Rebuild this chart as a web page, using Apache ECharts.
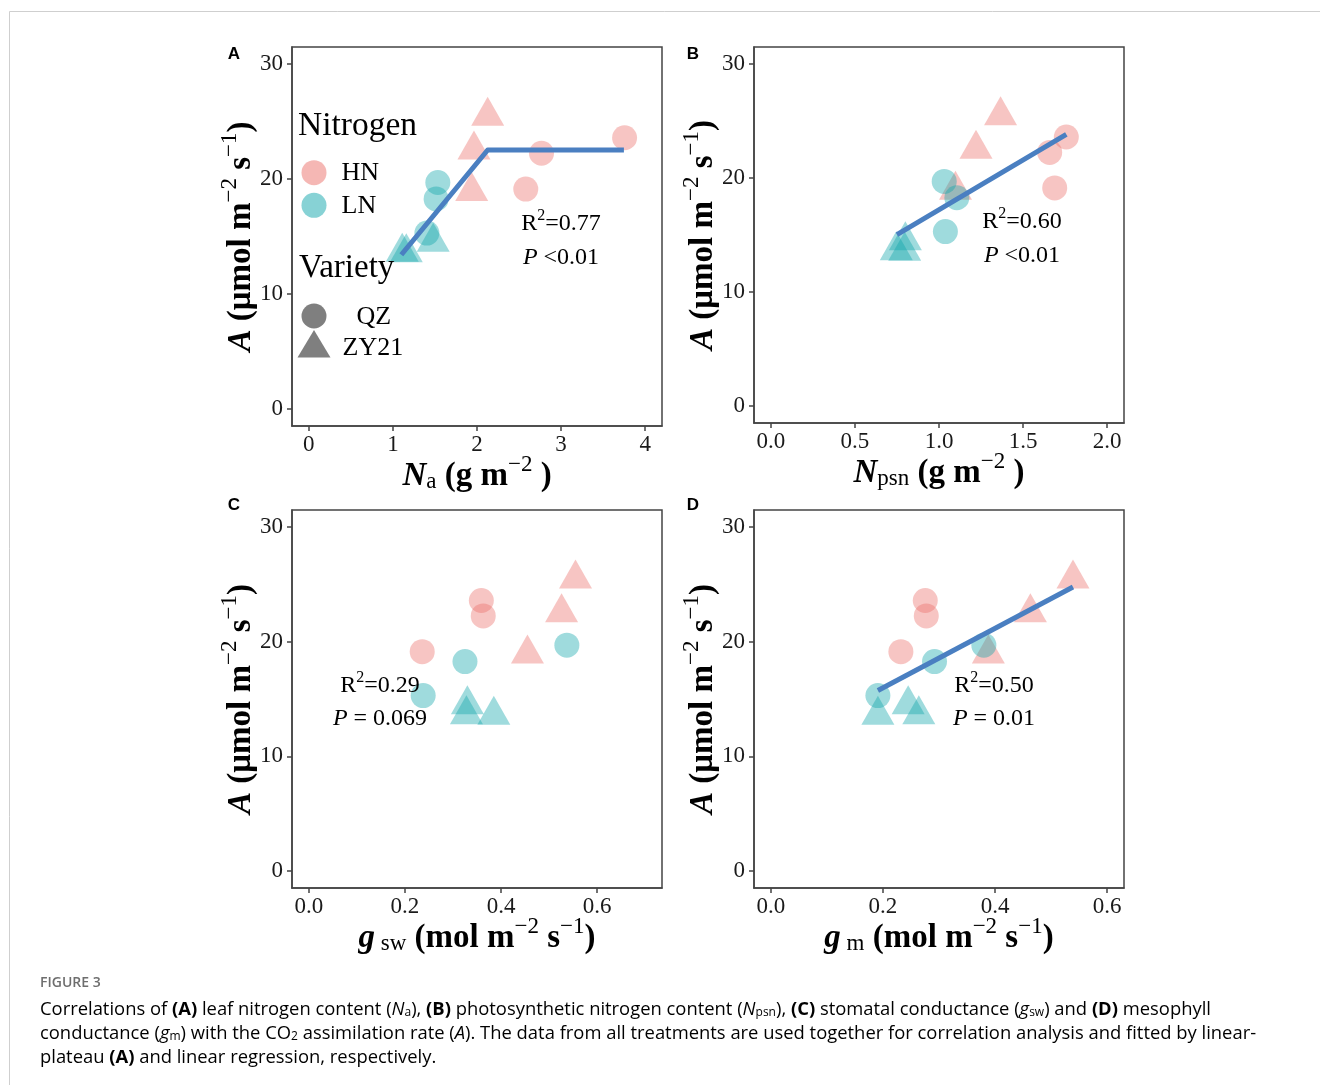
<!DOCTYPE html>
<html><head><meta charset="utf-8">
<script src="https://cdn.jsdelivr.net/npm/echarts@6/dist/echarts.min.js"></script>
<style>html,body{margin:0;padding:0;background:#fff}#c{width:1320px;height:1085px}</style>
</head><body><div id="c"></div>
<script>
// ---------- DATA ----------
// Y: CO2 assimilation rate A (µmol m-2 s-1), by group (Nitrogen x Variety)
const A_HN_QZ   = [23.6, 22.25, 19.13];
const A_HN_ZY21 = [25.47, 22.53, 18.92];
const A_LN_QZ   = [19.7, 18.27, 15.3];
const A_LN_ZY21 = [14.5, 13.62, 13.58];

// Panel A: Na (g m-2)
const Na_HN_QZ   = [3.755, 2.767, 2.58];
const Na_HN_ZY21 = [2.127, 1.964, 1.937];
const Na_LN_QZ   = [1.534, 1.514, 1.404];
const Na_LN_ZY21 = [1.479, 1.111, 1.159];
// Panel B: Npsn (g m-2)
const Npsn_HN_QZ   = [1.757, 1.658, 1.688];
const Npsn_HN_ZY21 = [1.366, 1.220, 1.098];
const Npsn_LN_QZ   = [1.031, 1.106, 1.038];
const Npsn_LN_ZY21 = [0.80, 0.746, 0.796];
// Panel C: gsw (mol m-2 s-1)
const gsw_HN_QZ   = [0.359, 0.363, 0.236];
const gsw_HN_ZY21 = [0.555, 0.526, 0.455];
const gsw_LN_QZ   = [0.537, 0.325, 0.238];
const gsw_LN_ZY21 = [0.330, 0.328, 0.385];
// Panel D: gm (mol m-2 s-1)
const gm_HN_QZ   = [0.2755, 0.2773, 0.232];
const gm_HN_ZY21 = [0.539, 0.463, 0.388];
const gm_LN_QZ   = [0.380, 0.292, 0.191];
const gm_LN_ZY21 = [0.245, 0.264, 0.191];

// Fitted lines
const fitA_x = [1.10, 2.127, 3.747];
const fitA_y = [13.41, 22.53, 22.53];
const fitB_x = [0.75, 1.757];
const fitB_y = [15.04, 23.84];
const fitD_x = [0.191, 0.539];
const fitD_y = [15.74, 24.78];

// Ticks
const xTicksA = [0, 1, 2, 3, 4];
const xTicksB = [0, 0.5, 1.0, 1.5, 2.0];
const xTicksC = [0, 0.2, 0.4, 0.6];
const xTicksD = [0, 0.2, 0.4, 0.6];
const yTicks  = [0, 10, 20, 30];

// Annotations
const statsA = ['0.77', '<0.01'];
const statsB = ['0.60', '<0.01'];
const statsC = ['0.29', '= 0.069'];
const statsD = ['0.50', '= 0.01'];

// ---------- STYLE ----------
const SERIF = "'Liberation Serif','Times New Roman',serif";
const SANS = "'Open Sans','Liberation Sans',sans-serif";
const PINK = 'rgba(235,111,105,0.5)';
const TEAL = 'rgba(15,165,171,0.5)';
const GRAY = 'rgba(0,0,0,0.5)';
const LINEC = '#4A7FC1';
const FRAME = '#444';

const chart = echarts.init(document.getElementById('c'), null, {renderer: 'canvas'});
const zip = (xs, ys) => xs.map((x, i) => [x, ys[i]]);

const grids = [
  {left: 292, top: 47, width: 370, height: 379},
  {left: 754, top: 47, width: 370, height: 376},
  {left: 292, top: 510, width: 370, height: 378},
  {left: 754, top: 510, width: 370, height: 378}
].map(g => Object.assign(g, {show: true, borderColor: FRAME, borderWidth: 1.5, backgroundColor: 'transparent', outerBoundsMode: 'none', containLabel: false}));

const axisRich = {
  bi: {fontFamily: SERIF, fontSize: 33, fontWeight: 'bold', fontStyle: 'italic', lineHeight: 40, verticalAlign: 'bottom', color: '#000'},
  b: {fontFamily: SERIF, fontSize: 33, fontWeight: 'bold', lineHeight: 40, verticalAlign: 'bottom', color: '#000'},
  sub: {fontFamily: SERIF, fontSize: 23, lineHeight: 23, verticalAlign: 'bottom', color: '#000'},
  sup: {fontFamily: SERIF, fontSize: 23, lineHeight: 23, verticalAlign: 'top', color: '#000'}
};

const xNames = [
  '{bi|N}{sub|a}{b| (g m}{sup|−2}{b| )}',
  '{bi|N}{sub|psn}{b| (g m}{sup|−2}{b| )}',
  '{bi|g}{sub| sw}{b| (mol m}{sup|−2}{b| s}{sup|−1}{b|)}',
  '{bi|g}{sub| m}{b| (mol m}{sup|−2}{b| s}{sup|−1}{b|)}'
];
const yName = '{bi|A}{b| (μmol m}{sup|−2}{b| s}{sup|−1}{b|)}';

const xRanges = [[-0.2, 4.2], [-0.1, 2.1], [-0.035, 0.735], [-0.03, 0.63]];
const xTickSets = [xTicksA, xTicksB, xTicksC, xTicksD];
const xFmt = [v => String(v), v => v.toFixed(1), v => v.toFixed(1), v => v.toFixed(1)];

const tickStyle = {color: '#444', width: 1.5};
const xAxes = [], yAxes = [];
for (let i = 0; i < 4; i++) {
  xAxes.push({
    type: 'value', gridIndex: i, position: 'bottom', min: xRanges[i][0], max: xRanges[i][1],
    name: xNames[i], nameLocation: 'middle', nameGap: 27, nameMoveOverlap: false,
    nameTextStyle: {rich: axisRich},
    axisLine: {show: true, onZero: false, lineStyle: {color: FRAME, width: 1.5}}, splitLine: {show: false},
    axisTick: {show: true, inside: false, length: 5, lineStyle: tickStyle, customValues: xTickSets[i]},
    axisLabel: {show: true, margin: 7, fontFamily: SERIF, fontSize: 23, color: '#1a1a1a', customValues: xTickSets[i], formatter: xFmt[i]}
  });
  yAxes.push({
    type: 'value', gridIndex: i, position: 'left', min: -1.5, max: 31.5,
    name: yName, nameLocation: 'middle', nameRotate: 90, nameGap: 34, nameMoveOverlap: false,
    nameTextStyle: {rich: axisRich},
    axisLine: {show: true, onZero: false, lineStyle: {color: FRAME, width: 1.5}}, splitLine: {show: false},
    axisTick: {show: true, inside: false, length: 5, lineStyle: tickStyle, customValues: yTicks},
    axisLabel: {show: true, margin: 9, fontFamily: SERIF, fontSize: 23, color: '#1a1a1a', customValues: yTicks, formatter: v => String(v)}
  });
}

const panelX = [
  [Na_HN_QZ, Na_HN_ZY21, Na_LN_QZ, Na_LN_ZY21],
  [Npsn_HN_QZ, Npsn_HN_ZY21, Npsn_LN_QZ, Npsn_LN_ZY21],
  [gsw_HN_QZ, gsw_HN_ZY21, gsw_LN_QZ, gsw_LN_ZY21],
  [gm_HN_QZ, gm_HN_ZY21, gm_LN_QZ, gm_LN_ZY21]
];
const groupY = [A_HN_QZ, A_HN_ZY21, A_LN_QZ, A_LN_ZY21];
const groupName = ['HN-QZ', 'HN-ZY21', 'LN-QZ', 'LN-ZY21'];
const groupColor = [PINK, PINK, TEAL, TEAL];
const groupTri = [false, true, false, true];

const series = [];
for (let p = 0; p < 4; p++) {
  for (let g = 0; g < 4; g++) {
    series.push({
      type: 'scatter', name: groupName[g], xAxisIndex: p, yAxisIndex: p,
      data: zip(panelX[p][g], groupY[g]),
      symbol: groupTri[g] ? 'triangle' : 'circle',
      symbolSize: groupTri[g] ? [33, 29] : 25,
      symbolOffset: groupTri[g] ? [0, -5] : [0, 0],
      itemStyle: {color: groupColor[g], borderWidth: 0},
      emphasis: {disabled: true}, z: 2
    });
  }
}
const fits = [[0, fitA_x, fitA_y], [1, fitB_x, fitB_y], [3, fitD_x, fitD_y]];
fits.forEach(([p, xs, ys]) => series.push({
  type: 'line', xAxisIndex: p, yAxisIndex: p, data: zip(xs, ys),
  showSymbol: false, symbol: 'none', lineStyle: {color: LINEC, width: 5, cap: 'butt', join: 'round'},
  emphasis: {disabled: true}, z: 3
}));

// ---------- GRAPHIC (legend, annotations, labels, caption) ----------
const g = [];
// outer frame
g.push({type: 'polyline', shape: {points: [[9.5, 1085], [9.5, 11.5], [1320, 11.5]]}, style: {stroke: '#cfcfcf', lineWidth: 1, fill: null}, silent: true});
// panel letters
[['A', 234, 54], ['B', 693, 54], ['C', 234, 505], ['D', 693, 505]].forEach(([t, x, y]) => g.push({
  type: 'text', x: x, y: y, style: {text: t, font: "bold 17px 'Liberation Sans', Arial, sans-serif", fill: '#000', align: 'center', verticalAlign: 'middle'}, silent: true
}));
// legend
const legTxt = (t, x, y, size) => g.push({type: 'text', x: x, y: y, style: {text: t, font: size + 'px ' + SERIF, fill: '#000', align: 'left', verticalAlign: 'middle'}, silent: true, z: 10});
legTxt('Nitrogen', 298, 126, 33.5);
g.push({type: 'circle', shape: {cx: 314, cy: 172.7, r: 12.5}, style: {fill: PINK}, silent: true, z: 10});
legTxt('HN', 341.5, 173, 26);
g.push({type: 'circle', shape: {cx: 314, cy: 205.3, r: 12.5}, style: {fill: TEAL}, silent: true, z: 10});
legTxt('LN', 341.5, 206, 26);
legTxt('Variety', 299, 268, 33);
g.push({type: 'circle', shape: {cx: 314, cy: 316, r: 12.5}, style: {fill: GRAY}, silent: true, z: 10});
legTxt('QZ', 356.5, 317, 26);
g.push({type: 'polygon', shape: {points: [[314, 330], [330.5, 357.5], [297.5, 357.5]]}, style: {fill: GRAY}, silent: true, z: 10});
legTxt('ZY21', 342.5, 348.5, 26);

// annotations
const annRich = {
  n: {fontFamily: SERIF, fontSize: 24, lineHeight: 28, verticalAlign: 'bottom', color: '#000'},
  i: {fontFamily: SERIF, fontSize: 24, fontStyle: 'italic', lineHeight: 28, verticalAlign: 'bottom', color: '#000'},
  sup: {fontFamily: SERIF, fontSize: 16, lineHeight: 18, verticalAlign: 'top', color: '#000'}
};
const ann = (stats, cx, y1, y2) => {
  g.push({type: 'text', x: cx, y: y1, style: {text: '{n|R}{sup|2}{n|=' + stats[0] + '}', rich: annRich, align: 'center', verticalAlign: 'middle'}, silent: true, z: 10});
  g.push({type: 'text', x: cx, y: y2, style: {text: '{i|P}{n| ' + stats[1] + '}', rich: annRich, align: 'center', verticalAlign: 'middle'}, silent: true, z: 10});
};
ann(statsA, 561, 222, 256);
ann(statsB, 1022, 220, 254);
ann(statsC, 380, 684, 717);
ann(statsD, 994, 684, 717);

// caption
const CAPC = '#777';
const CAPF = 18.4;
const capRich = {
  n: {fontFamily: SANS, fontSize: CAPF, lineHeight: 24, verticalAlign: 'bottom', color: CAPC},
  b: {fontFamily: SANS, fontSize: CAPF, fontWeight: 'bold', lineHeight: 24, verticalAlign: 'bottom', color: '#5e5e5e'},
  i: {fontFamily: SANS, fontSize: CAPF, fontStyle: 'italic', lineHeight: 24, verticalAlign: 'bottom', color: CAPC},
  s: {fontFamily: SANS, fontSize: 12, lineHeight: 12, verticalAlign: 'bottom', color: CAPC}
};
g.push({type: 'text', x: 40, y: 983, style: {text: 'FIGURE 3', font: "600 14px " + SANS, fill: '#6e6e6e', align: 'left', verticalAlign: 'middle'}, silent: true});
const capLines = [
  '{n|Correlations of }{b|(A)}{n| leaf nitrogen content (}{i|N}{s|a}{n|), }{b|(B)}{n| photosynthetic nitrogen content (}{i|N}{s|psn}{n|), }{b|(C)}{n| stomatal conductance (}{i|g}{s|sw}{n|) and }{b|(D)}{n| mesophyll}',
  '{n|conductance (}{i|g}{s|m}{n|) with the CO}{s|2}{n| assimilation rate (}{i|A}{n|). The data from all treatments are used together for correlation analysis and fitted by linear-}',
  '{n|plateau }{b|(A)}{n| and linear regression, respectively.}'
];
[1006.5, 1030.5, 1054.5].forEach((y, k) => g.push({type: 'text', x: 40, y: y, style: {text: capLines[k], rich: capRich, align: 'left', verticalAlign: 'middle'}, silent: true}));

chart.setOption({
  animation: false,
  backgroundColor: '#fff',
  grid: grids,
  xAxis: xAxes,
  yAxis: yAxes,
  series: series,
  graphic: g
});
</script></body></html>
